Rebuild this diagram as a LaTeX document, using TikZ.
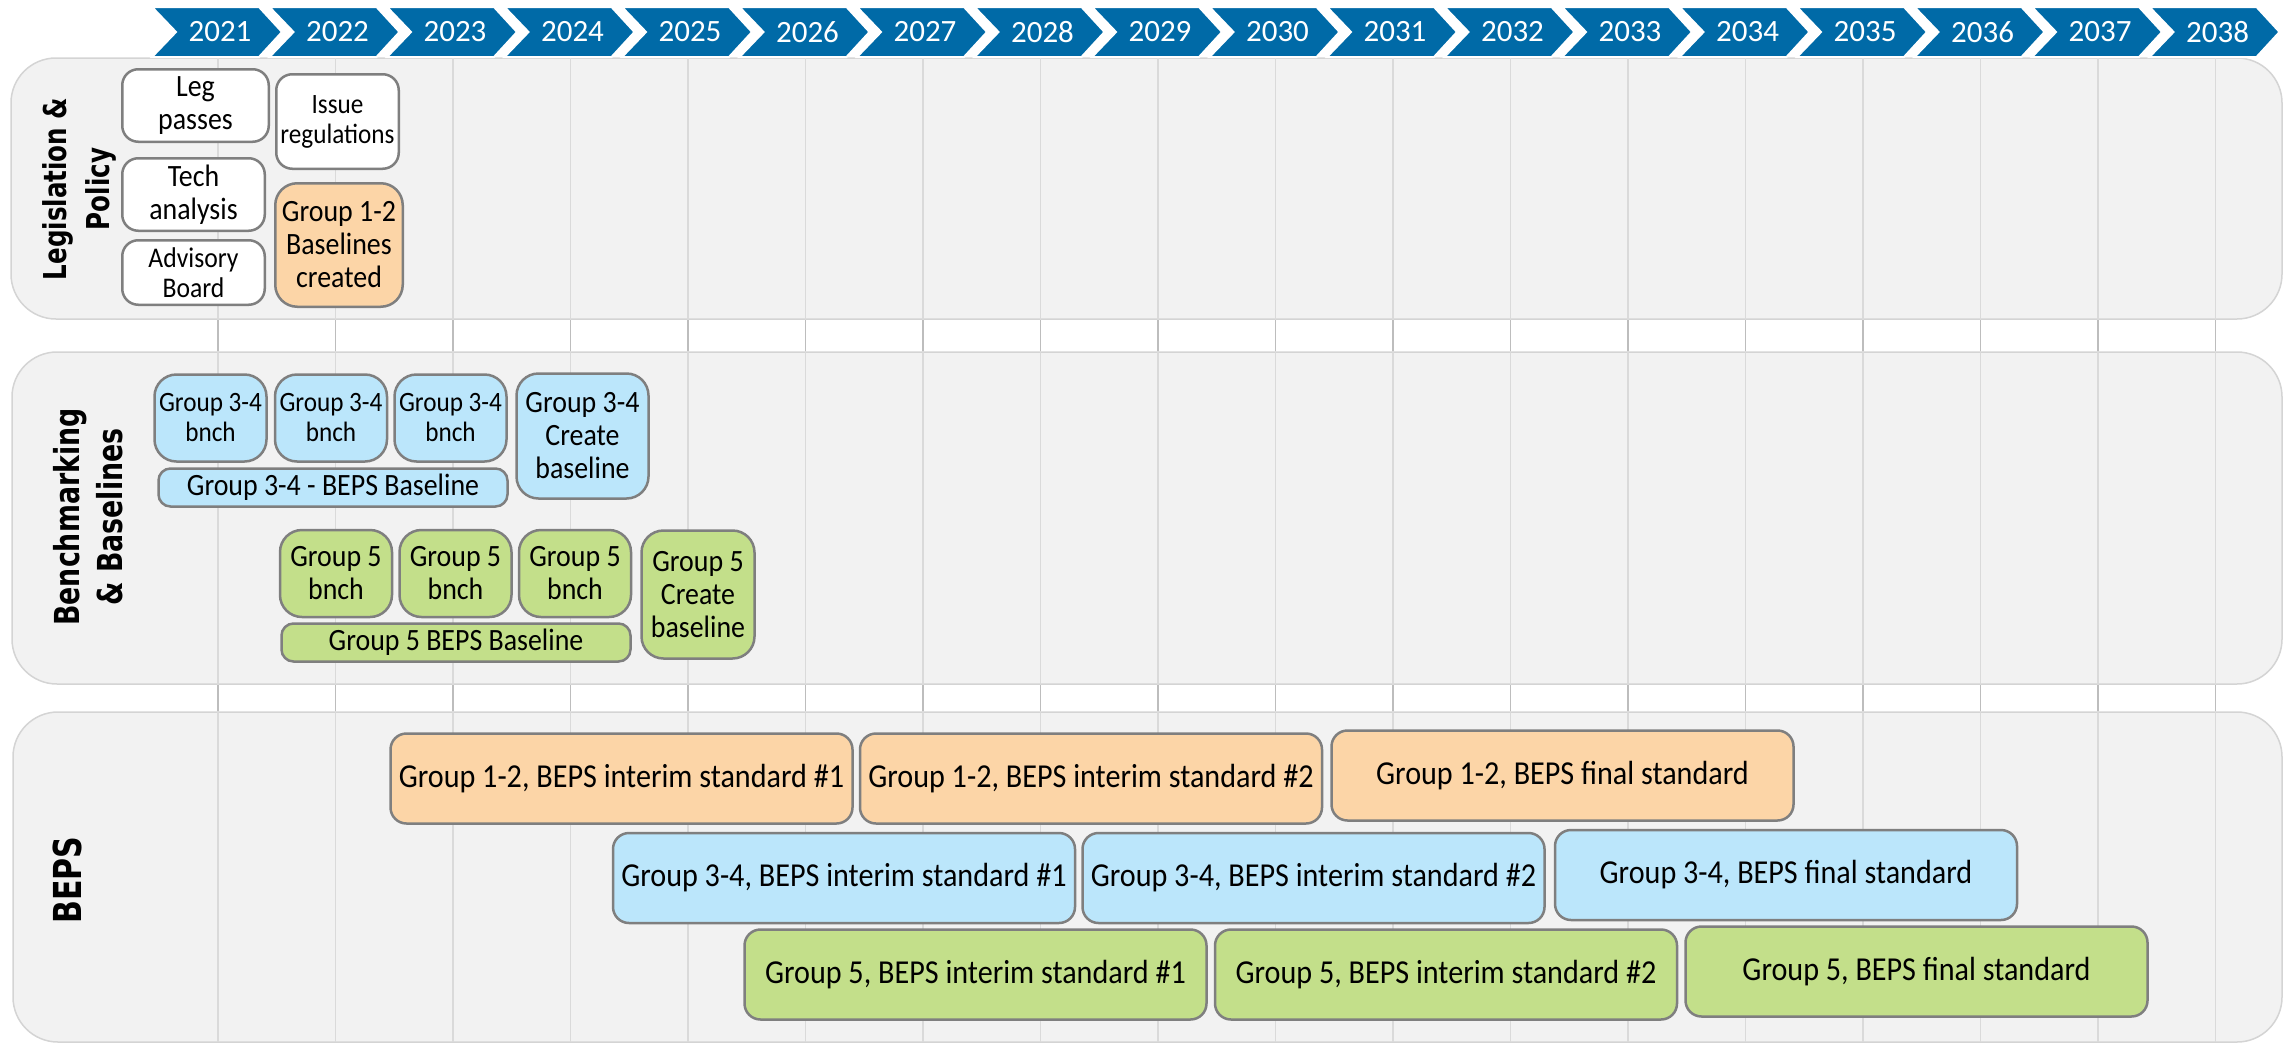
\documentclass[tikz,border=0pt]{standalone}
\usepackage{fontspec}
\setmainfont{Carlito}
\newfontfamily\narrowfont{Carlito}[FakeStretch=0.9]
\newfontfamily\sidefont{DejaVu Sans}[FakeStretch=0.78]
\usetikzlibrary{positioning}

\definecolor{chevblue}{HTML}{006AA7}
\definecolor{panelgray}{HTML}{F2F2F2}
\definecolor{panelline}{HTML}{D4D4D4}
\definecolor{linegray}{HTML}{DADADA}
\definecolor{gapgray}{HTML}{BDBDBD}
\definecolor{boxline}{HTML}{7F7F7F}
\definecolor{peach}{HTML}{FCD5A7}
\definecolor{skyblue}{HTML}{BBE6FB}
\definecolor{leafgreen}{HTML}{C3DF8A}

\begin{document}
\begin{tikzpicture}[x=1pt,y=-1pt]

\tikzstyle{panel}=[fill=panelgray,draw=panelline,line width=1.5pt,rounded corners=45pt]
\tikzstyle{year line}=[draw=linegray,line width=1.5pt]
\tikzstyle{gap line}=[draw=gapgray,line width=1.5pt]
\tikzstyle{chevron}=[fill=chevblue,draw=white,line width=2pt,line join=miter]
\tikzstyle{year label}=[text=white,font=\fontsize{31}{31}\selectfont]
\tikzstyle{side label}=[rotate=90,align=center,text=black]
\tikzstyle{task}=[draw=boxline,line width=2.5pt,rounded corners=16pt,inner sep=0pt,align=center,text=black,
  font=\narrowfont\fontsize{31}{33}\selectfont]
\tikzstyle{plain task}=[task,fill=white]
\tikzstyle{orange task}=[task,fill=peach]
\tikzstyle{blue task}=[task,fill=skyblue]
\tikzstyle{green task}=[task,fill=leafgreen]
\tikzstyle{bnch}=[minimum width=112pt,minimum height=87pt,rounded corners=22pt]
\tikzstyle{beps}=[minimum width=462pt,minimum height=90pt,font=\narrowfont\fontsize{33.5}{35}\selectfont]

\fill[white] (0,0) rectangle (2285,1044);
\useasboundingbox (0,0) rectangle (2285,1044);

% swim lanes
\draw[panel] (11,58) rectangle (2282,319);
\draw[panel] (12,352) rectangle (2282,684);
\draw[panel] (13,712) rectangle (2282,1042);

% year columns
\foreach \i in {0,...,17} {
  \draw[year line] (218+117.5*\i,58) -- (218+117.5*\i,1042);
  \draw[gap line] (218+117.5*\i,320) -- (218+117.5*\i,351)
                  (218+117.5*\i,685) -- (218+117.5*\i,711);
}

% year header
\foreach \yr [count=\i from 0] in {2021,...,2038} {
  \pgfmathsetmacro{\lft}{152+117.5*\i}
  \filldraw[chevron] (\lft,7) -- ++(107,0) -- ++(23,25) -- ++(-23,25) -- ++(-107,0) -- ++(24,-25) -- cycle;
  \node[year label] (y\yr) at (\lft+68,32) {\yr};
}

% lane titles
\node[side label,font=\sidefont\bfseries\fontsize{31.5}{43}\selectfont] (lawlbl) at (79,189) {Legislation \&\\Policy};
\node[side label,font=\sidefont\bfseries\fontsize{34.4}{43}\selectfont] (benchlbl) at (88,517) {Benchmarking\\\& Baselines};
\node[side label,font=\sidefont\bfseries\fontsize{38.5}{43}\selectfont] (bepslbl) at (67,880) {BEPS};

% legislation & policy
\node[plain task,minimum width=146.5pt,minimum height=72.5pt] (leg) at (195.5,105.5) {Leg\\passes};
\node[plain task,minimum width=142.5pt,minimum height=72.5pt] (tech) at (193.5,194.5) {Tech\\analysis};
\node[plain task,minimum width=142.5pt,minimum height=64.5pt,font=\narrowfont\fontsize{28.5}{30}\selectfont] (adv) at (193.5,272.5) {Advisory\\Board};
\node[plain task,minimum width=122.5pt,minimum height=94.5pt,font=\narrowfont\fontsize{28}{30}\selectfont] (issue) at (337.5,121.5) {Issue\\regulations};
\node[orange task,minimum width=127.5pt,minimum height=123.5pt,rounded corners=22pt] (base12) at (339,245) {Group 1-2\\Baselines\\created};

% benchmarking & baselines
\node[blue task,bnch,font=\narrowfont\fontsize{28}{30}\selectfont] (b34a) at (210.5,418) {Group 3-4\\bnch};
\node[blue task,bnch,font=\narrowfont\fontsize{28}{30}\selectfont] (b34b) [right=6pt of b34a] {Group 3-4\\bnch};
\node[blue task,bnch,font=\narrowfont\fontsize{28}{30}\selectfont] (b34c) [right=5pt of b34b] {Group 3-4\\bnch};
\node[blue task,minimum width=132pt,minimum height=125pt,rounded corners=22pt] (c34) at (582.5,436) {Group 3-4\\Create\\baseline};
\node[blue task,minimum width=349pt,minimum height=38pt,rounded corners=12pt] (bl34) at (333,487.5) {Group 3-4 - BEPS Baseline};

\node[green task,bnch] (b5a) at (336,573.5) {Group 5\\bnch};
\node[green task,bnch] (b5b) [right=5pt of b5a] {Group 5\\bnch};
\node[green task,bnch] (b5c) [right=5pt of b5b] {Group 5\\bnch};
\node[green task,minimum width=113pt,minimum height=128pt,rounded corners=22pt] (c5) at (698,594.5) {Group 5\\Create\\baseline};
\node[green task,minimum width=349pt,minimum height=38pt,rounded corners=12pt] (bl5) at (456,642.5) {Group 5 BEPS Baseline};

% beps
\node[orange task,beps] (s12a) at (621.5,778.5) {Group 1-2, BEPS interim standard \#1};
\node[orange task,beps] (s12b) [right=5pt of s12a] {Group 1-2, BEPS interim standard \#2};
\node[orange task,beps] (s12c) [right=7pt of s12b,yshift=3pt] {Group 1-2, BEPS final standard};

\node[blue task,beps] (s34a) at (844,878) {Group 3-4, BEPS interim standard \#1};
\node[blue task,beps] (s34b) [right=5pt of s34a] {Group 3-4, BEPS interim standard \#2};
\node[blue task,beps] (s34c) [right=8pt of s34b,yshift=3pt] {Group 3-4, BEPS final standard};

\node[green task,beps] (s5a) at (975.5,974.5) {Group 5, BEPS interim standard \#1};
\node[green task,beps] (s5b) [right=6pt of s5a] {Group 5, BEPS interim standard \#2};
\node[green task,beps] (s5c) [right=6pt of s5b,yshift=3pt] {Group 5, BEPS final standard};

\end{tikzpicture}
\end{document}
